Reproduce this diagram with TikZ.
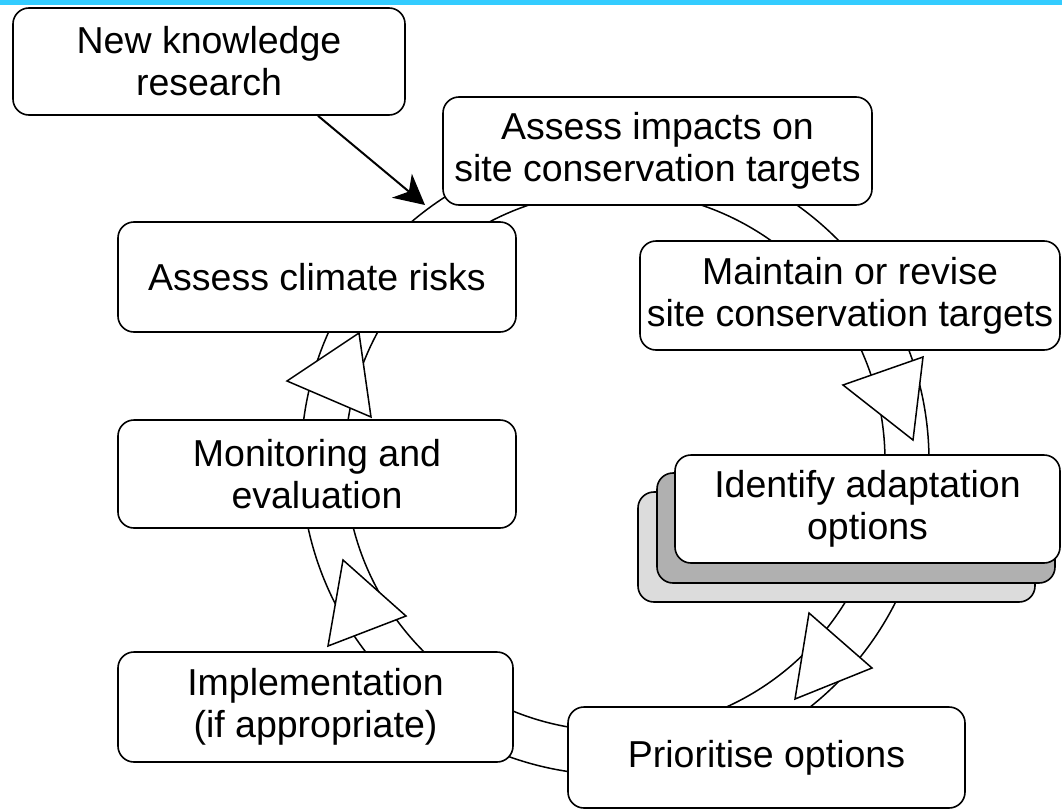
\documentclass[tikz,border=0pt]{standalone}
\usepackage{fontspec}
\setmainfont{Liberation Sans}
\usetikzlibrary{arrows.meta}
\definecolor{barcyan}{HTML}{33CCFF}
\definecolor{stackmid}{HTML}{B0B0B0}
\definecolor{stackback}{HTML}{DCDCDC}
\begin{document}
\begin{tikzpicture}[x=1pt,y=-1pt,
  box/.style={draw=black, line width=1.6pt, fill=white, rounded corners=16pt,
    align=center, inner sep=0pt, font=\fontsize{37.5}{42}\selectfont},
  ringline/.style={draw=black, line width=1.5pt},
  tri/.style={draw=black, line width=1.5pt, fill=white, line join=miter}]
\useasboundingbox (0,0) rectangle (1062,811);
\fill[barcyan] (0,0) rectangle (1062,5);

% ring
\coordinate (c) at (615,461);
\draw[ringline] (c) circle[radius=314pt];
\draw[ringline] (c) circle[radius=270pt];

% triangular arrow heads on the ring
\draw[tri] (287,381) -- (359,333) -- (371,417) -- cycle;
\draw[tri] (343,560) -- (406,616) -- (328,646) -- cycle;
\draw[tri] (843,385) -- (923,357) -- (913,440) -- cycle;
\draw[tri] (809,613) -- (872,668) -- (795,699) -- cycle;

% boxes
\node[box, minimum width=392pt, minimum height=107pt] (nk) at (209,61.5) {New knowledge\\research};
\node[box, minimum width=429pt, minimum height=108pt] (ai) at (657.5,151) {Assess impacts on\\site conservation targets};
\node[box, minimum width=398pt, minimum height=110pt] (acr) at (317,277) {Assess climate risks};
\node[box, minimum width=420pt, minimum height=109pt] (mr) at (850,295.5) {Maintain or revise\\site conservation targets};
\node[box, minimum width=398pt, minimum height=108pt] (me) at (317,474) {Monitoring and\\evaluation};
\node[box, fill=stackback, minimum width=397pt, minimum height=110pt] (idb) at (836.5,547) {};
\node[box, fill=stackmid, minimum width=398pt, minimum height=110pt] (idm) at (856,528) {};
\node[box, minimum width=385pt, minimum height=108pt] (id) at (867.5,509) {Identify adaptation\\options};
\node[box, minimum width=395pt, minimum height=110pt] (impl) at (315.5,707) {Implementation\\(if appropriate)};
\node[box, minimum width=397pt, minimum height=101pt] (prio) at (766.5,757.5) {Prioritise options};

% input arrow
\coordinate (tip) at (425,205);
\draw[line width=2pt, -{Stealth[length=30pt, width=31pt, inset=9pt]}] ([xshift=109pt]nk.south) -- (tip);
\end{tikzpicture}
\end{document}
